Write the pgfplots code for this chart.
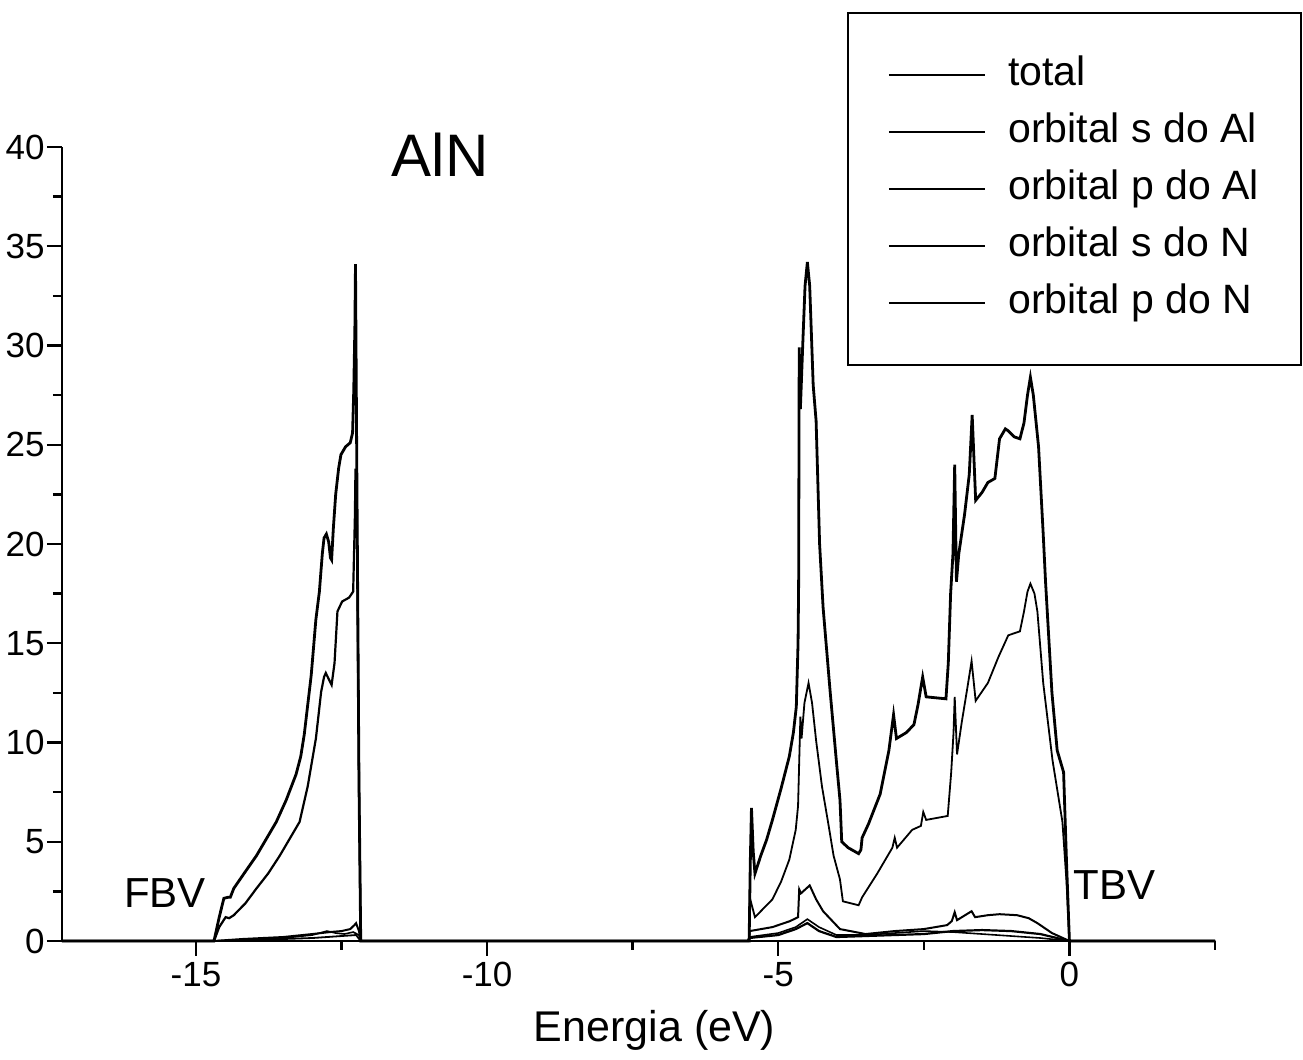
\documentclass[border=0pt]{standalone}
\usepackage{fontspec}
\setmainfont{Liberation Sans}
\usepackage{pgfplots}
\pgfplotsset{compat=1.18}
\begin{document}
\begin{tikzpicture}
\useasboundingbox (0,0) rectangle (651.5pt,530pt);
\clip (0,0) rectangle (651.5pt,530pt);
\begin{axis}[
  at={(31pt,59.5pt)}, anchor=south west,
  scale only axis, width=576.5pt, height=397pt,
  clip=false,
  xmin=-17.3, xmax=2.5, ymin=0, ymax=40,
  axis x line=bottom, axis y line=left,
  axis line style={line width=1.4pt,-},
  xtick={-15,-10,-5,0}, minor xtick={-12.5,-7.5,-2.5,2.5},
  ytick={0,5,...,40}, minor ytick={2.5,7.5,...,37.5},
  tick align=outside,
  major tick length=7.5pt, minor tick length=4.5pt,
  every tick/.style={line width=1.2pt, black},
  /pgf/number format/assume math mode=true,
  ticklabel style={font=\fontsize{17.5}{20}\selectfont},
  yticklabel style={inner sep=1pt},
  xticklabel style={inner sep=3pt},
  legend cell align=left,
  legend image code/.code={\draw[line width=0.8pt] (0pt,0pt) -- (48pt,0pt); \path (58pt,0pt);},
  legend style={at={(0.6808,1.170)}, anchor=north west, draw=black, line width=1.2pt,
    inner xsep=20pt, inner ysep=20pt, row sep=6.5pt,
    font=\fontsize{20.5}{24}\selectfont,
    nodes={inner sep=1pt, text height=15pt, text depth=5pt},
    /tikz/every odd column/.append style={text width=205pt, align=left}},
]
% total
\addplot[black, line width=1.4pt] coordinates {
(-17.3,0) (-14.72,0) (-14.69,0) (-14.60,1.2) (-14.52,2.15) (-14.45,2.2) (-14.41,2.2) (-14.35,2.65)
(-14.15,3.5) (-13.96,4.3) (-13.80,5.1) (-13.62,6.0) (-13.45,7.1) (-13.28,8.4) (-13.20,9.3)
(-13.14,10.4) (-13.08,11.9) (-13.02,13.4) (-12.94,16.2) (-12.88,17.6) (-12.83,19.5) (-12.80,20.3)
(-12.76,20.5) (-12.72,20.1) (-12.69,19.3) (-12.67,19.2) (-12.64,20.8) (-12.60,22.5) (-12.55,23.8)
(-12.51,24.5) (-12.43,24.9) (-12.35,25.1) (-12.31,25.6) (-12.29,27.7) (-12.27,31) (-12.26,34.1)
(-12.24,25) (-12.20,8) (-12.17,0)
(-5.52,0) (-5.50,0) (-5.48,4) (-5.46,6.7) (-5.43,4.5) (-5.40,3.4) (-5.30,4.3) (-5.20,5.1) (-5.10,6.1)
(-4.95,7.7) (-4.81,9.3) (-4.74,10.5) (-4.69,11.8) (-4.66,15) (-4.65,18) (-4.64,29.9) (-4.62,26.8)
(-4.58,30) (-4.54,33) (-4.50,34.2) (-4.46,33) (-4.40,28) (-4.35,26.2) (-4.29,20) (-4.23,16.8)
(-4.11,12.6) (-4.00,9) (-3.94,7.1) (-3.91,5.0) (-3.80,4.7) (-3.62,4.4) (-3.58,4.6) (-3.56,5.2)
(-3.45,5.9) (-3.25,7.4) (-3.10,9.6) (-3.02,11.4) (-2.97,10.2) (-2.80,10.5) (-2.67,10.9) (-2.60,11.9)
(-2.52,13.3) (-2.46,12.3) (-2.12,12.2) (-2.08,14) (-2.04,17.5) (-2.00,19.5) (-1.97,24.0) (-1.94,18.1)
(-1.90,19.5) (-1.80,21.5) (-1.72,23.5) (-1.67,26.5) (-1.61,22.2) (-1.50,22.6) (-1.40,23.1) (-1.28,23.3)
(-1.20,25.3) (-1.10,25.8) (-1.05,25.7) (-0.95,25.4) (-0.85,25.3) (-0.78,26.1) (-0.72,27.5) (-0.67,28.4)
(-0.62,27.5) (-0.53,24.9) (-0.45,20.5) (-0.41,18.1) (-0.30,12.5) (-0.21,9.6) (-0.10,8.5) (-0.05,4)
(0.00,0) (2.5,0)
};
\addlegendentry{total}
% orbital s do Al
\addplot[black, line width=0.8pt] coordinates {
(-17.3,0) (-14.69,0) (-14.0,0.08) (-13.5,0.15) (-13.0,0.3) (-12.75,0.5) (-12.6,0.4) (-12.45,0.35)
(-12.3,0.45) (-12.2,0.3) (-12.17,0)
(-5.52,0) (-5.5,0.2) (-5.0,0.4) (-4.7,0.7) (-4.5,1.1) (-4.3,0.7) (-4.0,0.3) (-3.5,0.3) (-3.0,0.4)
(-2.5,0.5) (-2.0,0.45) (-1.5,0.35) (-1.0,0.25) (-0.5,0.15) (0,0) (2.5,0)
};
\addlegendentry{orbital s do Al}
% orbital p do Al
\addplot[black, line width=1.0pt] coordinates {
(-17.3,0) (-14.69,0) (-14.2,0.1) (-13.5,0.2) (-13.0,0.35) (-12.7,0.45) (-12.5,0.5) (-12.35,0.6)
(-12.28,0.8) (-12.25,0.9) (-12.2,0.5) (-12.17,0)
(-5.52,0) (-5.50,0) (-5.49,0.5) (-5.10,0.7) (-4.80,1.0) (-4.66,1.2) (-4.64,2.6) (-4.61,2.4) (-4.46,2.8)
(-4.35,2.1) (-4.23,1.5) (-3.94,0.6) (-3.50,0.35) (-3.00,0.5) (-2.50,0.6) (-2.10,0.8) (-2.02,1.0)
(-1.97,1.45) (-1.93,1.05) (-1.68,1.5) (-1.62,1.2) (-1.40,1.3) (-1.20,1.35) (-0.90,1.3) (-0.70,1.15)
(-0.55,0.9) (-0.30,0.4) (0,0) (2.5,0)
};
\addlegendentry{orbital p do Al}
% orbital s do N
\addplot[black, line width=1.1pt] coordinates {
(-17.3,0) (-14.72,0) (-14.69,0) (-14.60,0.7) (-14.49,1.2) (-14.43,1.15) (-14.35,1.3) (-14.15,1.9)
(-13.96,2.65) (-13.76,3.4) (-13.56,4.3) (-13.40,5.1) (-13.22,6.0) (-13.08,7.8) (-12.94,10.2)
(-12.85,12.55) (-12.80,13.3) (-12.77,13.5) (-12.72,13.2) (-12.67,12.9) (-12.62,14.0) (-12.57,16.6)
(-12.49,17.1) (-12.37,17.3) (-12.30,17.6) (-12.27,21.4) (-12.26,23.8) (-12.24,22.5) (-12.20,8) (-12.17,0)
(-5.52,0) (-5.5,0.15) (-5.0,0.3) (-4.7,0.6) (-4.5,0.9) (-4.3,0.5) (-4.0,0.2) (-3.0,0.3) (-2.5,0.35)
(-2.0,0.5) (-1.5,0.55) (-1.0,0.5) (-0.5,0.35) (0,0) (2.5,0)
};
\addlegendentry{orbital s do N}
% orbital p do N
\addplot[black, line width=0.9pt] coordinates {
(-17.3,0) (-14.69,0) (-14.0,0.05) (-13.0,0.15) (-12.5,0.25) (-12.25,0.3) (-12.17,0)
(-5.52,0) (-5.50,0) (-5.49,2.2) (-5.40,1.2) (-5.30,1.5) (-5.10,2.1) (-4.95,3.0) (-4.81,4.1) (-4.70,5.6)
(-4.66,6.8) (-4.62,11.3) (-4.60,10.2) (-4.55,12) (-4.48,13.0) (-4.42,12) (-4.35,10.1) (-4.25,7.8)
(-4.14,5.9) (-4.05,4.3) (-3.94,3.1) (-3.89,2.0) (-3.62,1.8) (-3.56,2.2) (-3.30,3.4) (-3.04,4.7)
(-3.00,5.2) (-2.96,4.7) (-2.70,5.6) (-2.55,5.8) (-2.51,6.5) (-2.46,6.1) (-2.09,6.3) (-2.03,8.5)
(-1.99,10.5) (-1.97,12.3) (-1.93,9.4) (-1.85,11.0) (-1.75,12.8) (-1.68,14.1) (-1.61,12.1) (-1.40,13.0)
(-1.22,14.3) (-1.05,15.4) (-0.85,15.6) (-0.78,16.6) (-0.72,17.6) (-0.67,18.0) (-0.60,17.5) (-0.55,16.6)
(-0.45,13) (-0.29,9.1) (-0.12,6.0) (-0.05,3) (0,0) (2.5,0)
};
\addlegendentry{orbital p do N}
\node[font=\fontsize{30}{36}\selectfont] at (axis description cs:0.328,0.990) {AlN};
\node[font=\fontsize{21}{25}\selectfont] at (axis description cs:0.0893,0.0605) {FBV};
\node[font=\fontsize{21}{25}\selectfont] at (axis description cs:0.913,0.0705) {TBV};
\node[font=\fontsize{21.5}{26}\selectfont] at (axis description cs:0.514,-0.112) {Energia (eV)};
\end{axis}
\end{tikzpicture}
\end{document}
